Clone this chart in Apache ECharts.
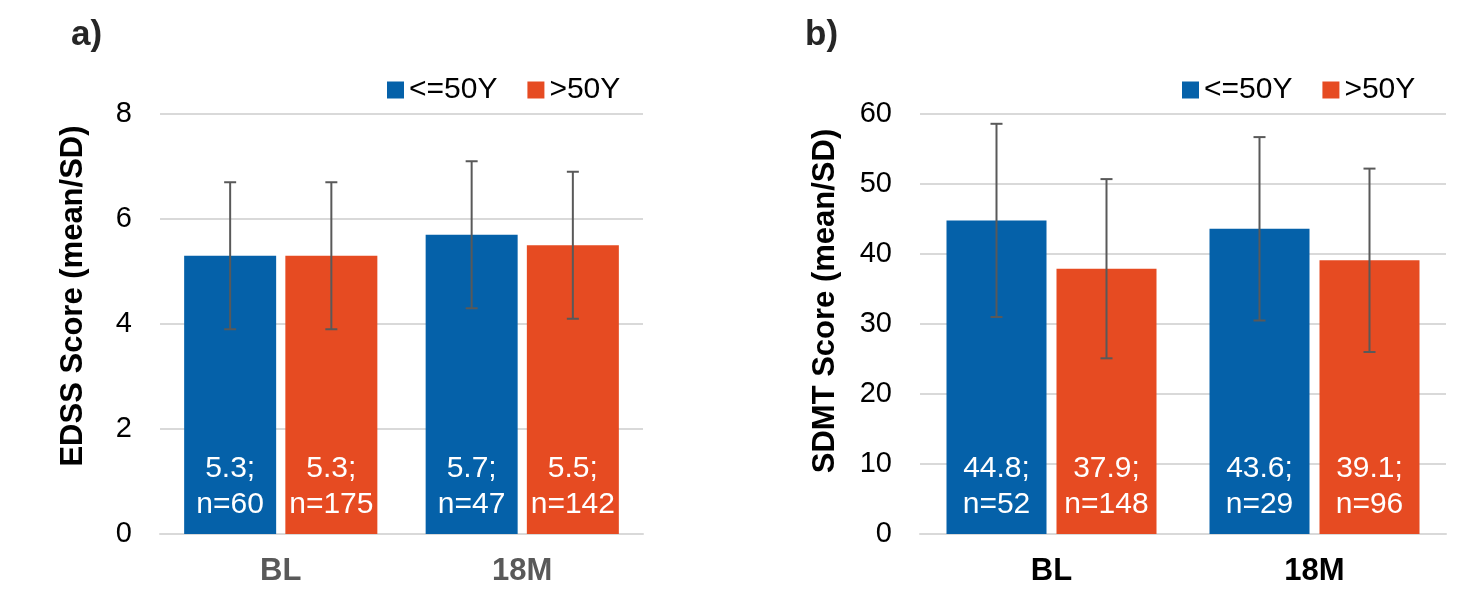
<!DOCTYPE html>
<html>
<head>
<meta charset="utf-8">
<title>EDSS / SDMT by age group</title>
<script src="https://cdn.jsdelivr.net/npm/echarts@6/dist/echarts.min.js"></script>
<style>
  html, body { margin: 0; padding: 0; background: #fff; }
  #chart { width: 1468px; height: 589px; }
</style>
</head>
<body>
<div id="chart"></div>
<script>
// categories and groups
const categories = ['BL', '18M']
const groups = ['<=50Y', '>50Y']

// a) EDSS
const edssYoungMean = [5.3, 5.7]
const edssYoungSd = [1.4, 1.4]
const edssYoungN = [60, 47]
const edssOldMean = [5.3, 5.5]
const edssOldSd = [1.4, 1.4]
const edssOldN = [175, 142]
const edssTicks = [0, 8, 2] // min, max, interval

// b) SDMT
const sdmtYoungMean = [44.8, 43.6]
const sdmtYoungSd = [13.8, 13.1]
const sdmtYoungN = [52, 29]
const sdmtOldMean = [37.9, 39.1]
const sdmtOldSd = [12.8, 13.1]
const sdmtOldN = [148, 96]
const sdmtTicks = [0, 60, 10]

const BLUE = '#0561a9'
const ORANGE = '#e64b22'
const FONT = 'Liberation Sans, Arial, sans-serif'

/**
 * 误差线: offset 为柱中心相对类目中心的像素偏移
 */
function errorBarRender (offset) {
  return function (params, api) {
    const x = api.coord([api.value(0), 0])[0] + offset
    const top = api.coord([api.value(0), api.value(2)])[1]
    const bottom = api.coord([api.value(0), api.value(1)])[1]
    const cap = 6
    const style = { stroke: '#595959', lineWidth: 2 }
    return {
      type: 'group',
      children: [
        { type: 'line', shape: { x1: x, y1: top, x2: x, y2: bottom }, style },
        { type: 'line', shape: { x1: x - cap, y1: top, x2: x + cap, y2: top }, style },
        { type: 'line', shape: { x1: x - cap, y1: bottom, x2: x + cap, y2: bottom }, style }
      ]
    }
  }
}

function errorData (mean, sd) {
  return mean.map((m, i) => [i, m - sd[i], m + sd[i]])
}

function barSeries (name, color, mean, n, axisIndex, barWidth) {
  return {
    name,
    type: 'bar',
    xAxisIndex: axisIndex,
    yAxisIndex: axisIndex,
    barWidth,
    barGap: '10%',
    itemStyle: { color },
    label: {
      show: true,
      position: 'insideBottom',
      distance: 11,
      color: '#fff',
      fontFamily: FONT,
      fontSize: 30,
      lineHeight: 36,
      formatter: (p) => mean[p.dataIndex].toFixed(1) + ';\nn=' + n[p.dataIndex]
    },
    data: mean
  }
}

function errorSeries (mean, sd, axisIndex, offset) {
  return {
    type: 'custom',
    xAxisIndex: axisIndex,
    yAxisIndex: axisIndex,
    z: 5,
    silent: true,
    renderItem: errorBarRender(offset),
    encode: { x: 0, y: [1, 2] },
    data: errorData(mean, sd)
  }
}

function catAxis (gridIndex, color) {
  return {
    type: 'category',
    gridIndex,
    data: categories,
    axisLine: { lineStyle: { color: '#d9d9d9', width: 2 } },
    axisTick: { show: false },
    axisLabel: { margin: 22, color, fontFamily: FONT, fontSize: 31, fontWeight: 'bold' }
  }
}

function valAxis (gridIndex, ticks, name, nameGap, shift) {
  return {
    type: 'value',
    gridIndex,
    min: ticks[0],
    max: ticks[1],
    interval: ticks[2],
    name,
    nameLocation: 'middle',
    nameGap,
    nameTextStyle: {
      fontFamily: FONT,
      fontSize: 31,
      fontWeight: 'bold',
      color: '#000',
      padding: [0, 0, 0, shift]
    },
    axisLine: { show: false },
    axisTick: { show: false },
    splitLine: { lineStyle: { color: '#d9d9d9', width: 2 } },
    axisLabel: { margin: 28, color: '#000', fontFamily: FONT, fontSize: 29 }
  }
}

const legendBase = {
  data: groups,
  icon: 'rect',
  itemWidth: 17,
  itemHeight: 17,
  itemGap: 30,
  top: 70,
  textStyle: { fontFamily: FONT, fontSize: 30, color: '#000' }
}

const titleStyle = { fontFamily: FONT, fontSize: 35, fontWeight: 'bold', color: '#262626' }

const option = {
  animation: false,
  backgroundColor: '#fff',
  title: [
    { text: 'a)', left: 66, top: 13, textStyle: titleStyle },
    { text: 'b)', left: 800, top: 13, textStyle: titleStyle }
  ],
  legend: [
    Object.assign({}, legendBase, { left: 382 }),
    Object.assign({}, legendBase, { left: 1177 })
  ],
  grid: [
    { left: 160, right: 825, top: 114, bottom: 55 },
    { left: 920, right: 22, top: 114, bottom: 55 }
  ],
  xAxis: [catAxis(0, '#595959'), catAxis(1, '#000')],
  yAxis: [
    valAxis(0, edssTicks, 'EDSS Score (mean/SD)', 71, 56),
    valAxis(1, sdmtTicks, 'SDMT Score (mean/SD)', 79, 46)
  ],
  series: [
    barSeries(groups[0], BLUE, edssYoungMean, edssYoungN, 0, 92),
    barSeries(groups[1], ORANGE, edssOldMean, edssOldN, 0, 92),
    barSeries(groups[0], BLUE, sdmtYoungMean, sdmtYoungN, 1, 100),
    barSeries(groups[1], ORANGE, sdmtOldMean, sdmtOldN, 1, 100),
    errorSeries(edssYoungMean, edssYoungSd, 0, -50.6),
    errorSeries(edssOldMean, edssOldSd, 0, 50.6),
    errorSeries(sdmtYoungMean, sdmtYoungSd, 1, -55),
    errorSeries(sdmtOldMean, sdmtOldSd, 1, 55)
  ]
}

const chart = echarts.init(document.getElementById('chart'))
chart.setOption(option)
</script>
</body>
</html>
